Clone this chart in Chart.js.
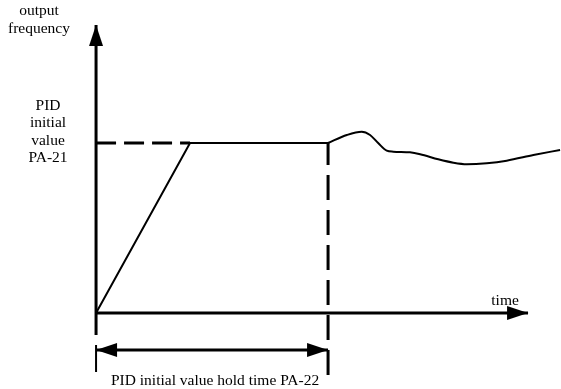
<!DOCTYPE html>
<html>
<head>
<meta charset="utf-8">
<script src="https://cdn.jsdelivr.net/npm/chart.js@4.4.1/dist/chart.umd.min.js"></script>
<style>
  html, body { margin: 0; padding: 0; background: #fff; }
  #wrap { width: 561px; height: 389px; position: relative; }
</style>
</head>
<body>
<div id="wrap"><canvas id="chart"></canvas></div>
<script>
// units: time (hold time PA-22 = 10), frequency (PID initial value PA-21 = 10)
const HOLD_TIME = 10;
const PID_INITIAL = 10;
const RAMP_END = 4.05;
const AXIS_X_END = 18.62;
const AXIS_Y_END = 16.94;
const AXIS_Y_START = -1.3;
const SPAN_Y = -2.18;
const DROP_END = -3.65;
const TICK_Y = [-1.88, -3.47];

// PID output after the hold time
const curveTime = [10, 10.81, 11.45, 11.81, 12.17, 12.53, 12.81, 13.53, 13.97, 14.75, 15.40, 15.98, 16.84, 17.70, 18.85, 20.0];
const curveFreq = [10, 10.47, 10.66, 10.47, 9.98, 9.55, 9.49, 9.45, 9.34, 9.04, 8.84, 8.75, 8.81, 8.96, 9.29, 9.59];

const yAxisTitle = ['output', 'frequency'];
const pidLabel = ['PID', 'initial', 'value', 'PA-21'];
const xAxisTitle = 'time';
const spanLabel = 'PID initial value hold time PA-22';

const BLACK = '#000';

function seg(points, width, dash) {
  return {
    data: points,
    showLine: true,
    borderColor: BLACK,
    borderWidth: width,
    borderDash: dash || [],
    pointRadius: 0,
    tension: 0,
    clip: false,
  };
}

const curve = curveTime.map((t, i) => ({ x: t, y: curveFreq[i] }));

const datasets = [
  seg([{ x: 0, y: AXIS_Y_START }, { x: 0, y: AXIS_Y_END }], 3),
  seg([{ x: 0, y: 0 }, { x: AXIS_X_END, y: 0 }], 3),
  seg([{ x: 0, y: TICK_Y[0] }, { x: 0, y: TICK_Y[1] }], 2),
  seg([{ x: 0, y: SPAN_Y }, { x: HOLD_TIME, y: SPAN_Y }], 3),
  seg([{ x: 0, y: PID_INITIAL }, { x: RAMP_END, y: PID_INITIAL }], 3, [20, 8]),
  seg([{ x: HOLD_TIME, y: DROP_END }, { x: HOLD_TIME, y: PID_INITIAL }], 3, [25, 10]),
  seg([{ x: 0, y: 0 }, { x: RAMP_END, y: PID_INITIAL }, { x: HOLD_TIME, y: PID_INITIAL }], 2),
  Object.assign(seg(curve, 2), { cubicInterpolationMode: 'monotone' }),
];

// arrowheads: tip position + direction
const arrows = [
  { x: 0, y: AXIS_Y_END, dir: 'up' },
  { x: AXIS_X_END, y: 0, dir: 'right' },
  { x: 0, y: SPAN_Y, dir: 'left' },
  { x: HOLD_TIME, y: SPAN_Y, dir: 'right' },
];

const decorPlugin = {
  id: 'decor',
  afterDatasetsDraw(chart) {
    const { ctx, scales } = chart;
    const px = v => scales.x.getPixelForValue(v);
    const py = v => scales.y.getPixelForValue(v);
    ctx.save();
    ctx.fillStyle = BLACK;

    const len = 21, half = 7;
    arrows.forEach(a => {
      const tx = px(a.x), ty = py(a.y);
      ctx.beginPath();
      if (a.dir === 'up') {
        ctx.moveTo(tx, ty);
        ctx.lineTo(tx - half, ty + len);
        ctx.lineTo(tx + half, ty + len);
      } else if (a.dir === 'right') {
        ctx.moveTo(tx, ty);
        ctx.lineTo(tx - len, ty - half);
        ctx.lineTo(tx - len, ty + half);
      } else {
        ctx.moveTo(tx, ty);
        ctx.lineTo(tx + len, ty - half);
        ctx.lineTo(tx + len, ty + half);
      }
      ctx.closePath();
      ctx.fill();
    });

    ctx.font = '15.5px "Liberation Serif", "Times New Roman", serif';
    ctx.textAlign = 'center';
    ctx.textBaseline = 'middle';

    const titleY = [17.76, 16.71];
    yAxisTitle.forEach((t, i) => ctx.fillText(t, px(-2.46), py(titleY[i])));

    const pidY = [12.18, 11.18, 10.12, 9.12];
    pidLabel.forEach((t, i) => ctx.fillText(t, px(-2.07), py(pidY[i])));

    ctx.fillText(xAxisTitle, px(17.63), py(0.71));
    ctx.fillText(spanLabel, px(5.13), py(-4.0));
    ctx.restore();
  }
};

new Chart(document.getElementById('chart'), {
  type: 'scatter',
  data: { datasets },
  options: {
    responsive: true,
    maintainAspectRatio: false,
    animation: false,
    layout: { padding: 0 },
    plugins: { legend: { display: false }, tooltip: { enabled: false } },
    scales: {
      x: { type: 'linear', display: false, min: -4.14, max: 20.04 },
      y: { type: 'linear', display: false, min: -4.47, max: 18.41 },
    },
  },
  plugins: [decorPlugin],
});
</script>
</body>
</html>
